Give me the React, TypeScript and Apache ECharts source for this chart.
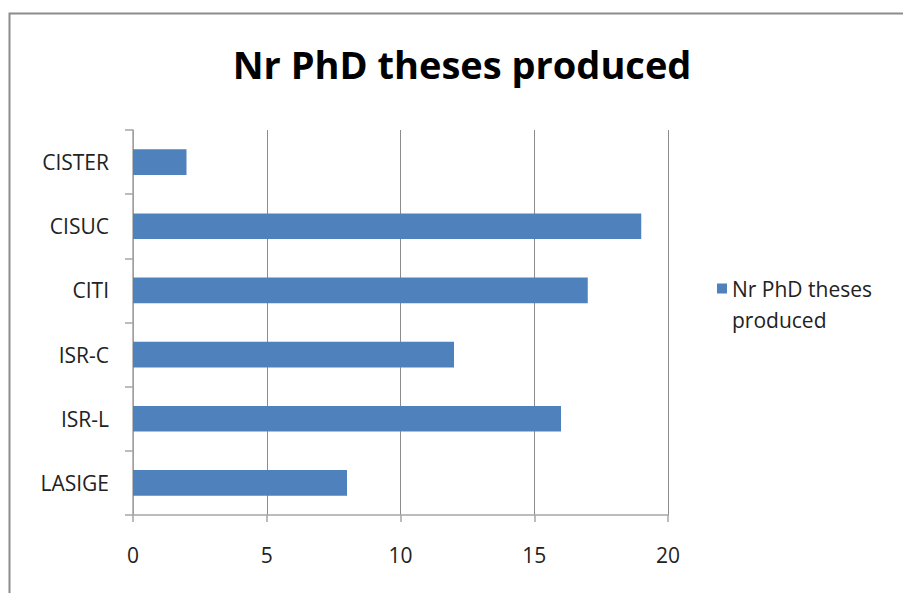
import React, { useEffect, useRef } from "react";
import * as echarts from "echarts";

const categories = ["CISTER", "CISUC", "CITI", "ISR-C", "ISR-L", "LASIGE"];
const values = [2, 19, 17, 12, 16, 8];
const seriesName = "Nr PhD theses produced";
const FONT = "Open Sans";

export default function App() {
  const ref = useRef<HTMLDivElement>(null);
  useEffect(() => {
    if (!ref.current) return;
    const chart = echarts.init(ref.current, null, { renderer: "svg" });
    chart.setOption({
      animation: false,
      backgroundColor: "#ffffff",
      graphic: [
        {
          type: "rect",
          shape: { x: 9.5, y: 13.5, width: 1000, height: 1000 },
          style: { fill: "none", stroke: "#8c8c8c", lineWidth: 2 },
          silent: true,
        },
      ],
      title: {
        text: seriesName,
        left: 457,
        top: 40,
        textAlign: "center",
        textStyle: { fontFamily: FONT, fontWeight: "bold", fontSize: 38, color: "#000" },
      },
      legend: {
        left: 712,
        top: 237,
        orient: "vertical",
        icon: "rect",
        itemWidth: 10,
        itemHeight: 10,
        itemGap: 8,
        formatter: () => "\nNr PhD theses\nproduced",
        textStyle: {
          fontFamily: FONT,
          fontSize: 21,
          color: "#222",
          lineHeight: 31,
        },
        data: [seriesName],
      },
      grid: { left: 133, top: 130, right: 235, bottom: 78, containLabel: false },
      xAxis: {
        type: "value",
        min: 0,
        max: 20,
        interval: 5,
        axisLine: { show: true, lineStyle: { color: "#a6a6a6", width: 1.5 } },
        axisTick: { show: true, length: 7, lineStyle: { color: "#a6a6a6", width: 1.5 } },
        splitLine: { show: true, lineStyle: { color: "#8c8c8c", width: 1 } },
        axisLabel: { fontFamily: FONT, fontSize: 21, color: "#222", margin: 29 },
      },
      yAxis: {
        type: "category",
        data: categories,
        inverse: true,
        axisLine: { show: true, lineStyle: { color: "#a6a6a6", width: 1.5 } },
        axisTick: { show: true, length: 8, alignWithLabel: false, lineStyle: { color: "#a6a6a6", width: 1.5 } },
        splitLine: { show: false },
        axisLabel: { fontFamily: FONT, fontSize: 21, color: "#222", margin: 24 },
      },
      series: [
        {
          name: seriesName,
          type: "bar",
          data: values,
          barWidth: "40%",
          itemStyle: { color: "#4f81bd" },
        },
      ],
    });
    return () => chart.dispose();
  }, []);
  return (
    <div
      ref={ref}
      style={{ position: "absolute", left: 0, top: 0, width: 903, height: 593 }}
    />
  );
}
